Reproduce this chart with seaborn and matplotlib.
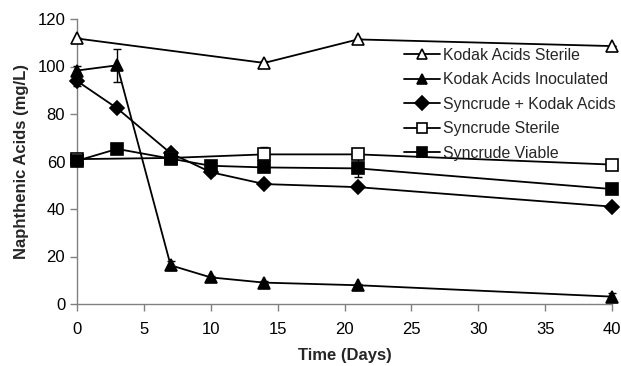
import matplotlib
matplotlib.use("Agg")
import matplotlib.pyplot as plt
import seaborn as sns
import pandas as pd

sns.set_style("ticks")
plt.rcParams['font.family'] = ['Liberation Sans', 'DejaVu Sans']

series_names = ["Kodak Acids Sterile", "Kodak Acids Inoculated", "Syncrude + Kodak Acids",
                "Syncrude Sterile", "Syncrude Viable"]

days_ks = [0, 14, 21, 40]
vals_ks = [111.8, 101.5, 111.4, 108.6]
err_ks = [0, 1.0, 0, 0]

days_ki = [0, 3, 7, 10, 14, 21, 40]
vals_ki = [98.3, 100.5, 16.3, 11.2, 9.0, 7.9, 3.1]
err_ki = [2.0, 7.0, 2.0, 0.8, 0.5, 0.5, 1.5]

days_sk = [0, 3, 7, 10, 14, 21, 40]
vals_sk = [93.9, 82.4, 63.5, 55.5, 50.5, 49.2, 41.0]
err_sk = [2.0, 1.0, 1.0, 1.0, 0.5, 0.5, 0.5]

days_ss = [0, 7, 14, 21, 40]
vals_ss = [61.0, 61.5, 63.0, 63.0, 58.7]
err_ss = [1.5, 0.5, 3.0, 0.5, 0.5]

days_sv = [0, 3, 7, 10, 14, 21, 40]
vals_sv = [60.3, 65.3, 61.2, 58.2, 57.5, 57.1, 48.4]
err_sv = [1.0, 0.5, 1.0, 2.0, 1.0, 3.8, 0.5]

all_days = [days_ks, days_ki, days_sk, days_ss, days_sv]
all_vals = [vals_ks, vals_ki, vals_sk, vals_ss, vals_sv]
all_errs = [err_ks, err_ki, err_sk, err_ss, err_sv]
markers = ["^", "^", "D", "s", "s"]
facecolors = ["white", "black", "black", "white", "black"]
msizes = [9, 9, 7, 8, 8]

x_ticks = [0, 5, 10, 15, 20, 25, 30, 35, 40]
y_ticks = [0, 20, 40, 60, 80, 100, 120]

rows = []
for name, d, v, e in zip(series_names, all_days, all_vals, all_errs):
    for di, vi, ei in zip(d, v, e):
        rows.append({"series": name, "day": di, "value": vi, "err": ei})
df = pd.DataFrame(rows)

fig = plt.figure(figsize=(6.21, 3.66), dpi=100)
ax = fig.add_axes([77/621, 1-304/366, (612-77)/621, (304-19)/366])

for name, m, fc, ms in zip(series_names, markers, facecolors, msizes):
    sub = df[df["series"] == name]
    eb = ax.errorbar(sub["day"], sub["value"], yerr=sub["err"], fmt="none",
                     ecolor="black", elinewidth=1, capsize=3, capthick=1, zorder=2)
    for art in eb.lines[1]:
        art.set_clip_on(False)
    for art in eb.lines[2]:
        art.set_clip_on(False)
    sns.lineplot(data=sub, x="day", y="value", ax=ax, color="black", linewidth=1.3,
                 marker=m, markersize=ms, markerfacecolor=fc, markeredgecolor="black",
                 markeredgewidth=1.2, label=name, zorder=3)

for ln in ax.lines:
    ln.set_clip_on(False)

ax.set_xlim(0, 40)
ax.set_ylim(0, 120)
ax.set_xticks(x_ticks)
ax.set_yticks(y_ticks)
ax.tick_params(axis="both", labelsize=12, colors="black", direction="out", length=5, width=1)
ax.tick_params(axis="both", color="#808080")
ax.tick_params(axis="x", pad=8)
for s in ["top", "right"]:
    ax.spines[s].set_visible(False)
for s in ["left", "bottom"]:
    ax.spines[s].set_color("#808080")
    ax.spines[s].set_linewidth(1)

ax.set_xlabel("Time (Days)", fontsize=12, fontweight="bold", labelpad=8)
ax.set_ylabel("Naphthenic Acids (mg/L)", fontsize=12, fontweight="bold", labelpad=6)

leg = ax.legend(loc="upper left", bbox_to_anchor=(0.599, 0.922), frameon=False, fontsize=11.4,
                handlelength=2.3, handletextpad=0.2, labelspacing=0.6, borderaxespad=0)
for h in leg.legend_handles:
    h.set_markersize(7)

fig.savefig("out.png", dpi=100)
